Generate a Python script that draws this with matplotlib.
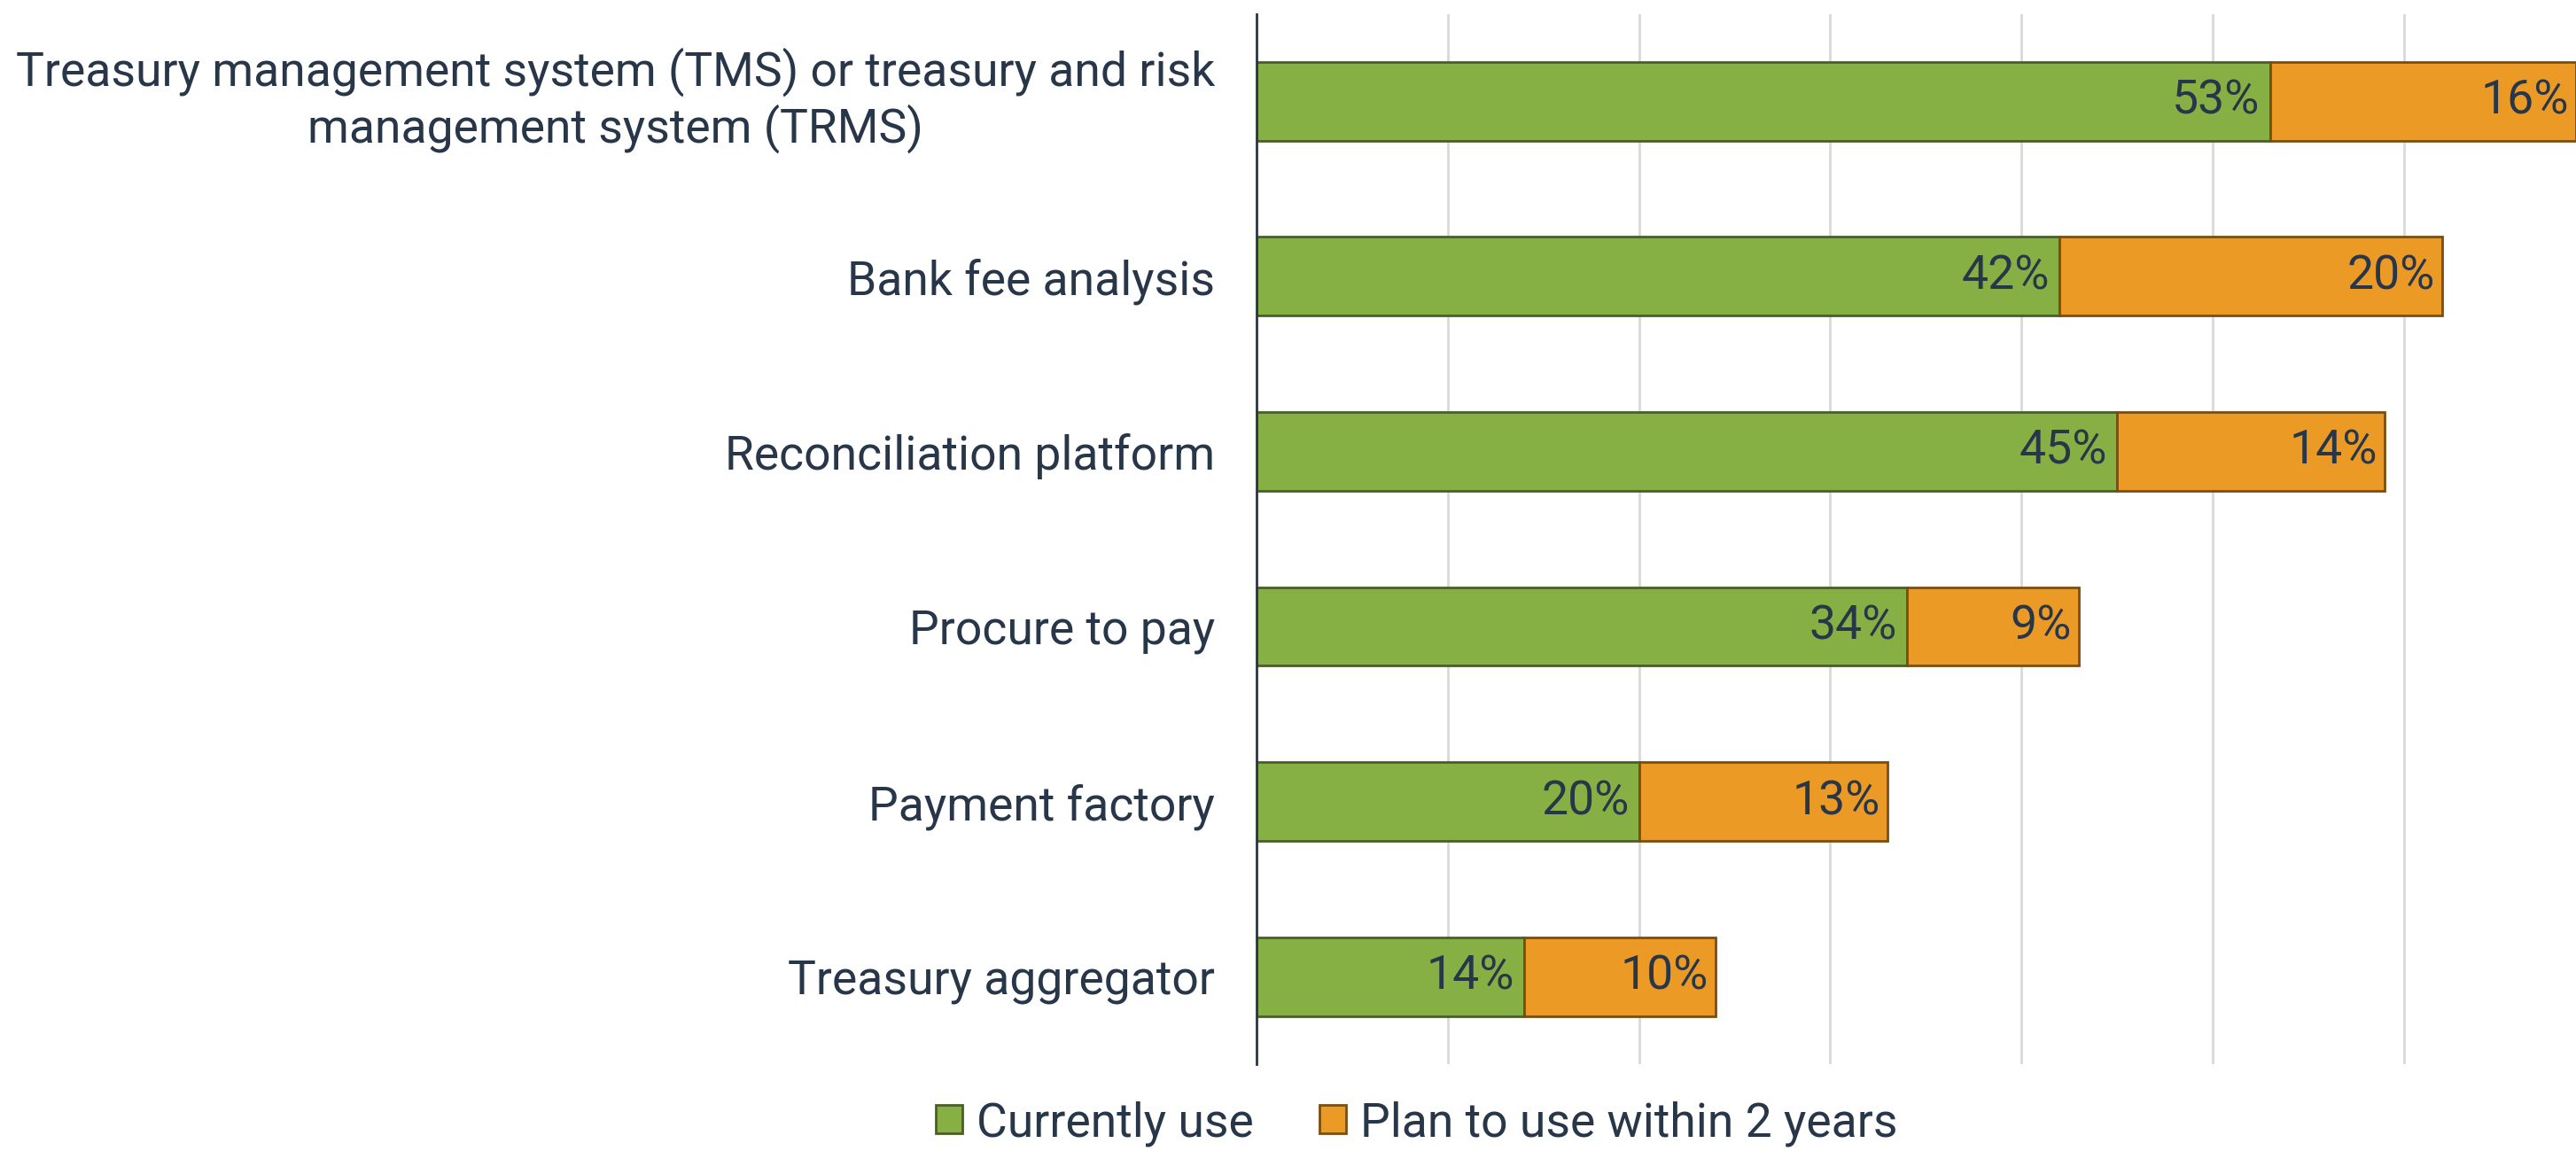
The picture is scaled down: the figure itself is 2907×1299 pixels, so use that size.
import matplotlib.pyplot as plt
import matplotlib.transforms as mtransforms
from matplotlib.patches import Patch

plt.rcParams['font.family'] = ['Roboto', 'DejaVu Sans']

# data (top to bottom)
categories = ['Treasury management system (TMS) or treasury and risk\nmanagement system (TRMS)',
              'Bank fee analysis',
              'Reconciliation platform',
              'Procure to pay',
              'Payment factory',
              'Treasury aggregator']
currently_use = [53, 42, 45, 34, 20, 14]
plan_to_use = [16, 20, 14, 9, 13, 10]
series_names = ['Currently use', 'Plan to use within 2 years']

text_color = '#283649'
green, green_edge = '#86B043', '#4B5E27'
orange, orange_edge = '#EB9A26', '#7A4E10'
fs = 38.5

fig = plt.figure(figsize=(29.07, 12.99), dpi=100)
ax = fig.add_axes([0.4878, 0.0755, 0.5122, 0.9125])

y = list(range(len(categories)))
ax.barh(y, currently_use, height=0.45, color=green, edgecolor=green_edge,
        linewidth=2, zorder=3)
ax.barh(y, plan_to_use, left=currently_use, height=0.45, color=orange,
        edgecolor=orange_edge, linewidth=2, zorder=3)

# value labels, right aligned inside each segment
for i in range(len(categories)):
    ax.annotate(f'{currently_use[i]}%', xy=(currently_use[i], i), xytext=(-8, 0),
                textcoords='offset points', ha='right', va='center',
                fontsize=fs, color=text_color, zorder=4)
    ax.annotate(f'{plan_to_use[i]}%', xy=(currently_use[i] + plan_to_use[i], i),
                xytext=(-6, 0), textcoords='offset points', ha='right',
                va='center', fontsize=fs, color=text_color, zorder=4)

ax.set_ylim(len(categories) - 0.5, -0.5)
ax.set_xlim(0, 69)
ax.set_yticks(y)
ax.set_yticklabels(categories, fontsize=fs, color=text_color,
                   multialignment='center')
ax.tick_params(axis='y', length=0, pad=34)
ax.set_xticks([10, 20, 30, 40, 50, 60])
ax.tick_params(axis='x', length=0, labelbottom=False)
ax.grid(axis='x', color='#D9D9D9', linewidth=2, zorder=0)

# nudge the two-line label up so it centres on its bar
lbl = ax.get_yticklabels()[0]
lbl.set_transform(lbl.get_transform() +
                  mtransforms.ScaledTranslation(0, 0.12, fig.dpi_scale_trans))

for s in ['top', 'right', 'bottom']:
    ax.spines[s].set_visible(False)
ax.spines['left'].set_color(text_color)
ax.spines['left'].set_linewidth(2)
ax.spines['left'].set_zorder(5)

handles = [Patch(facecolor=green, edgecolor=green_edge, linewidth=2),
           Patch(facecolor=orange, edgecolor=orange_edge, linewidth=2)]
fig.legend(handles, series_names, loc='center', bbox_to_anchor=(0.55, 0.024),
           ncol=2, frameon=False, fontsize=fs, labelcolor=text_color,
           handlelength=0.55, handleheight=0.55, handletextpad=0.3,
           columnspacing=1.4)

fig.savefig('out.png', dpi=100)
